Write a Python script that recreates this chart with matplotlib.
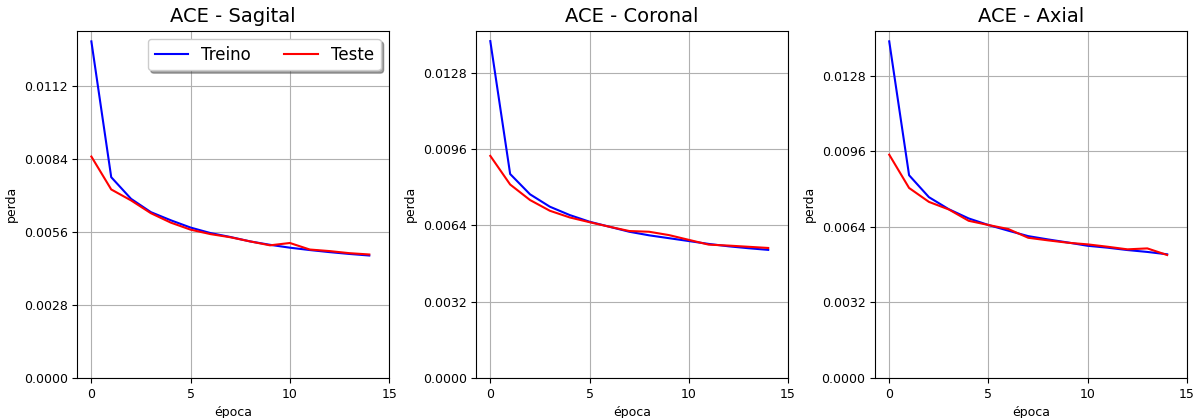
import numpy as np
import matplotlib
matplotlib.use("Agg")
import matplotlib.pyplot as plt

epochs = list(range(15))

# loss per view
sagital_treino = [0.01289, 0.00769, 0.00686, 0.00635, 0.00604, 0.00576, 0.00555, 0.00540,
                  0.00523, 0.00510, 0.00499, 0.00490, 0.00482, 0.00475, 0.00469]
sagital_teste = [0.00848, 0.00722, 0.00680, 0.00631, 0.00595, 0.00568, 0.00551, 0.00539,
                 0.00523, 0.00508, 0.00517, 0.00492, 0.00486, 0.00478, 0.00473]

coronal_treino = [0.01412, 0.00855, 0.00770, 0.00718, 0.00683, 0.00655, 0.00634, 0.00613,
                  0.00598, 0.00586, 0.00574, 0.00562, 0.00552, 0.00544, 0.00537]
coronal_teste = [0.00931, 0.00811, 0.00746, 0.00701, 0.00673, 0.00653, 0.00634, 0.00616,
                 0.00613, 0.00599, 0.00579, 0.00559, 0.00555, 0.00550, 0.00545]

axial_treino = [0.01426, 0.00859, 0.00766, 0.00715, 0.00676, 0.00648, 0.00624, 0.00601,
                0.00587, 0.00574, 0.00560, 0.00552, 0.00542, 0.00534, 0.00524]
axial_teste = [0.00946, 0.00805, 0.00746, 0.00714, 0.00666, 0.00648, 0.00631, 0.00594,
               0.00583, 0.00573, 0.00566, 0.00556, 0.00545, 0.00549, 0.00521]

titles = ["ACE - Sagital", "ACE - Coronal", "ACE - Axial"]
yticks = [
    [0.0, 0.0028, 0.0056, 0.0084, 0.0112],
    [0.0, 0.0032, 0.0064, 0.0096, 0.0128],
    [0.0, 0.0032, 0.0064, 0.0096, 0.0128],
]
xticks = [0, 5, 10, 15]

series = [
    (sagital_treino, sagital_teste),
    (coronal_treino, coronal_teste),
    (axial_treino, axial_teste),
]

fig, axes = plt.subplots(1, 3, figsize=(12.03, 4.18), dpi=100)
fig.subplots_adjust(left=0.0644, right=0.9867, top=0.9266, bottom=0.0957, wspace=0.28)

for i, ax in enumerate(axes):
    treino, teste = series[i]
    ax.plot(epochs, treino, color="blue", linewidth=1.5, label="Treino")
    ax.plot(epochs, teste, color="red", linewidth=1.5, label="Teste")
    ax.set_ylim(bottom=0)
    ax.set_xlim(-0.7, 15)
    ax.set_xticks(xticks)
    ax.set_yticks(yticks[i])
    ax.set_yticklabels(["%.4f" % v for v in yticks[i]])
    ax.tick_params(labelsize=9)
    ax.set_title(titles[i], fontsize=14)
    ax.set_xlabel("época", fontsize=9)
    ax.set_ylabel("perda", fontsize=9)
    ax.grid(True)
    if i == 0:
        ax.legend(loc="upper right", ncol=2, shadow=True, fontsize=12)

plt.savefig("out.png", dpi=100)
